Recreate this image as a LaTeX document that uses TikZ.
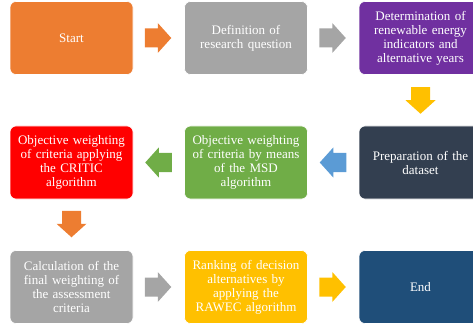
\documentclass[tikz,border=0pt]{standalone}
\usepackage{fontspec}
\setmainfont{Liberation Serif}
\usetikzlibrary{calc}
\definecolor{cOrange}{HTML}{ED7D31}
\definecolor{cGray}{HTML}{A5A5A5}
\definecolor{cPurple}{HTML}{7030A0}
\definecolor{cYellow}{HTML}{FFC000}
\definecolor{cSlate}{HTML}{333F50}
\definecolor{cRed}{HTML}{FF0000}
\definecolor{cGreen}{HTML}{70AD47}
\definecolor{cBlue}{HTML}{5B9BD5}
\definecolor{cNavy}{HTML}{1F4E79}
\tikzset{
  stepbox/.style={rounded corners=6pt, draw=white, line width=0.6pt,
    minimum width=123pt, minimum height=73pt, inner sep=2pt,
    text=white, align=center, text width=119pt,
    font=\fontsize{13}{14}\selectfont},
}
\newcommand{\blockarr}[3]{%
  \begin{scope}[shift={(#1)},rotate=#2]
    \fill[#3] (-13,-9.5) -- (0,-9.5) -- (0,-15) -- (13.5,0) -- (0,15) -- (0,9.5) -- (-13,9.5) -- cycle;
  \end{scope}}
\begin{document}
\begin{tikzpicture}[x=1pt,y=-1pt]
\useasboundingbox (0,0) rectangle (473,331);
\clip (0,0) rectangle (473,331);
\node[stepbox, fill=cOrange] (b1) at (71.5,38) {Start};
\node[stepbox, fill=cGray] (b2) at (246,38) {Definition of\\research question};
\node[stepbox, fill=cPurple] (b3) at (420.5,38) {Determination of\\renewable energy\\indicators and\\alternative years};
\node[stepbox, fill=cSlate] (b4) at (420.5,162.5) {Preparation of the\\dataset};
\node[stepbox, fill=cGreen] (b5) at (246,162.5) {Objective weighting\\of criteria by means\\of the MSD\\algorithm};
\node[stepbox, fill=cRed] (b6) at (71.5,162.5) {Objective weighting\\of criteria applying\\the CRITIC\\algorithm};
\node[stepbox, fill=cGray] (b7) at (71.5,287) {Calculation of the\\final weighting of\\the assessment\\criteria};
\node[stepbox, fill=cYellow] (b8) at (246,287) {Ranking of decision\\alternatives by\\applying the\\RAWEC algorithm};
\node[stepbox, fill=cNavy] (b9) at (420.5,287) {End};
\coordinate (a1) at ($(b1.east)!0.5!(b2.west)+(-1,0)$);
\coordinate (a2) at ($(b2.east)!0.5!(b3.west)+(-1,0)$);
\coordinate (a3) at ($(b3.south)!0.5!(b4.north)$);
\coordinate (a4) at ($(b4.west)!0.5!(b5.east)$);
\coordinate (a5) at ($(b5.west)!0.5!(b6.east)$);
\coordinate (a6) at ($(b6.south)!0.5!(b7.north)+(0,-1)$);
\coordinate (a7) at ($(b7.east)!0.5!(b8.west)+(-1,0)$);
\coordinate (a8) at ($(b8.east)!0.5!(b9.west)+(-1,0)$);
\blockarr{a1}{0}{cOrange}
\blockarr{a2}{0}{cGray}
\blockarr{a3}{270}{cYellow}
\blockarr{a4}{180}{cBlue}
\blockarr{a5}{180}{cGreen}
\blockarr{a6}{270}{cOrange}
\blockarr{a7}{0}{cGray}
\blockarr{a8}{0}{cYellow}
\end{tikzpicture}
\end{document}
